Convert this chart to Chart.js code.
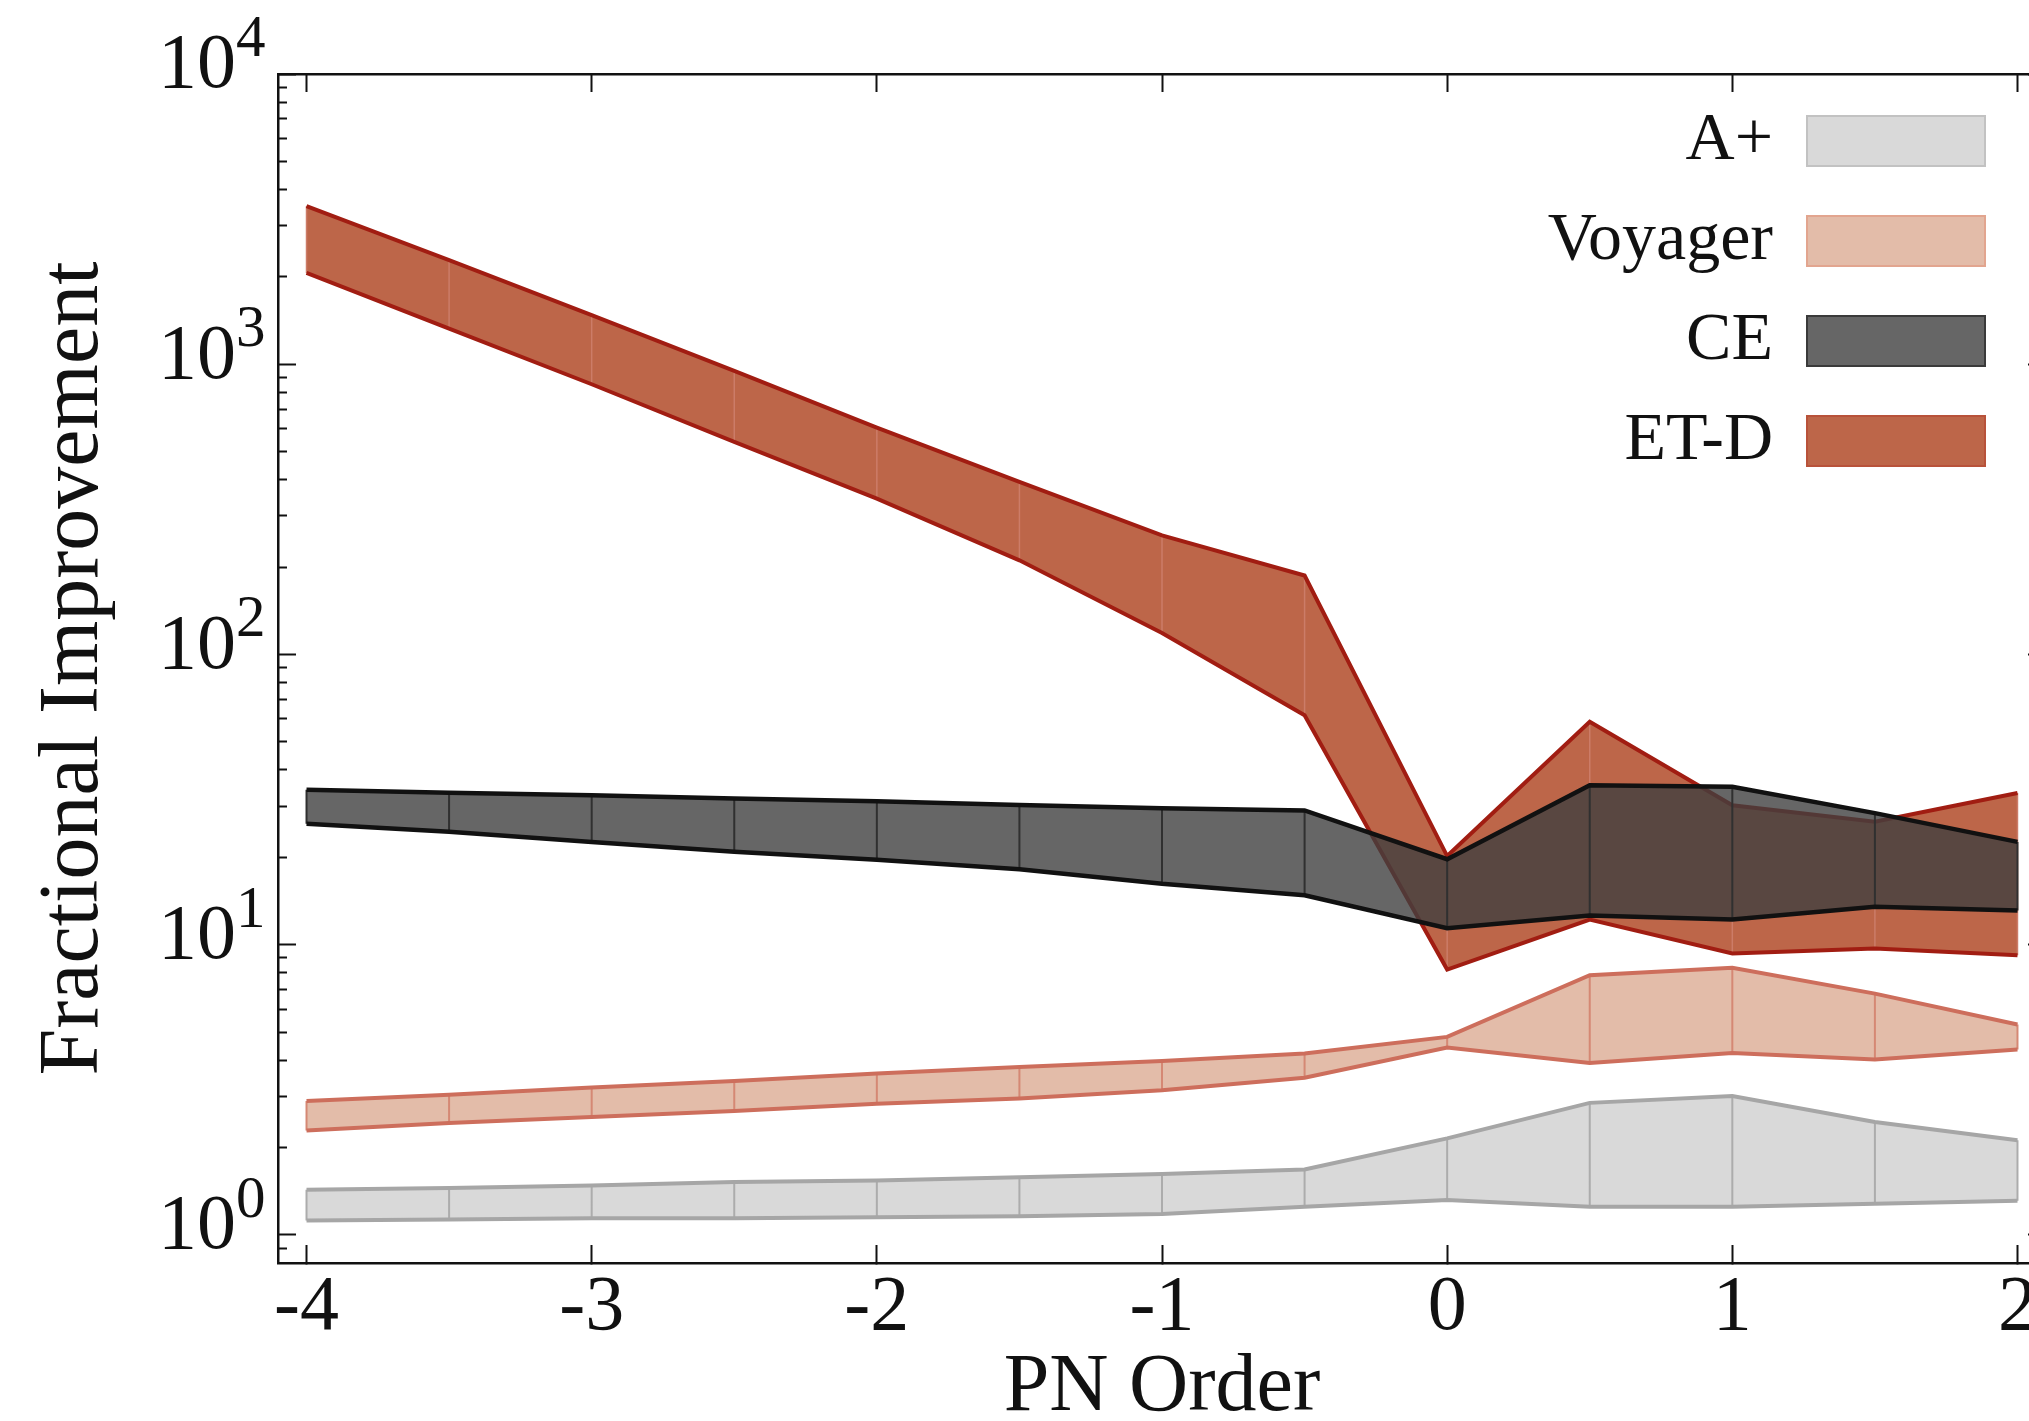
<!DOCTYPE html>
<html>
<head>
<meta charset="utf-8">
<title>Fractional Improvement vs PN Order</title>
<script src="https://cdn.jsdelivr.net/npm/chart.js@4.4.1/dist/chart.umd.min.js"></script>
<style>
  html, body { margin: 0; padding: 0; overflow: hidden; background: #ffffff; }
  #wrap { width: 2070px; height: 1421px; }
  canvas { display: block; }
</style>
</head>
<body>
<div id="wrap"><canvas id="chart" width="2070" height="1421"></canvas></div>
<script>
// ---- data -------------------------------------------------------------
const pnOrders = [-4, -3.5, -3, -2.5, -2, -1.5, -1, -0.5, 0, 0.5, 1, 1.5, 2];

const aPlusUpper   = [1.43, 1.45, 1.48, 1.52, 1.54, 1.58, 1.62, 1.68, 2.15, 2.85, 3.01, 2.45, 2.12];
const aPlusLower   = [1.12, 1.13, 1.14, 1.14, 1.15, 1.16, 1.18, 1.25, 1.32, 1.25, 1.25, 1.28, 1.31];

const voyagerUpper = [2.89, 3.04, 3.22, 3.39, 3.60, 3.79, 3.97, 4.22, 4.81, 7.85, 8.32, 6.78, 5.31];
const voyagerLower = [2.29, 2.43, 2.55, 2.67, 2.83, 2.95, 3.15, 3.48, 4.42, 3.91, 4.23, 4.02, 4.35];

const ceUpper      = [34.2, 33.4, 32.7, 31.9, 31.2, 30.3, 29.5, 29.0, 19.7, 35.4, 35.0, 28.4, 22.6];
const ceLower      = [26.1, 24.5, 22.6, 20.9, 19.6, 18.2, 16.2, 14.8, 11.4, 12.6, 12.2, 13.5, 13.1];

const etdUpper     = [3504, 2283, 1476, 948, 605, 393, 257, 187, 20.2, 58.6, 30.2, 26.5, 33.3];
const etdLower     = [2064, 1327, 853, 540, 344, 211, 118.6, 61.7, 8.21, 12.2, 9.32, 9.70, 9.20];

const detectorNames = ['A+', 'Voyager', 'CE', 'ET-D'];

const xTickValues = [-4, -3, -2, -1, 0, 1, 2];
const xTickLabels = ['-4', '-3', '-2', '-1', '0', '1', '2'];

const yMajorTicks = [1, 10, 100, 1000, 10000];
const yExponents  = ['0', '1', '2', '3', '4'];
const yMinorMultipliers = [2, 3, 4, 5, 6, 7, 8, 9];

const xLimits = [-4.1, 2.1];
const yLimits = [0.8, 10000];

// ---- styles -----------------------------------------------------------
const FONT = '"Liberation Serif", "Times New Roman", serif';
const INK = '#111111';

// layer: higher values are painted first (further back)
const bandStyles = {
  'A+':      { fill: '#d9d9d9', edge: '#a6a6a6', seg: '#acacac', key: '#c2c2c2', edgeWidth: 4,   segWidth: 2,   layer: 30 },
  'Voyager': { fill: '#e3bca9', edge: '#cd6e5c', seg: '#d58874', key: '#e2a58f', edgeWidth: 4,   segWidth: 2,   layer: 20 },
  'ET-D':    { fill: '#bd6649', edge: '#a11d12', seg: '#cc7c68', key: '#b8523a', edgeWidth: 4,   segWidth: 1.5, layer: 10 },
  'CE':      { fill: 'rgba(64,64,64,0.8)', edge: '#111111', seg: '#303030', key: '#3a3a3a', keyFill: '#666666', edgeWidth: 4.5, segWidth: 2, layer: 0 }
};

const bands = [
  { name: 'A+',      upper: aPlusUpper,   lower: aPlusLower },
  { name: 'Voyager', upper: voyagerUpper, lower: voyagerLower },
  { name: 'ET-D',    upper: etdUpper,     lower: etdLower },
  { name: 'CE',      upper: ceUpper,      lower: ceLower }
];

// ---- datasets -----------------------------------------------------------
function toPoints(values) {
  return pnOrders.map((x, i) => ({ x: x, y: values[i] }));
}
// one vertical stroke per PN order, separated by gaps
function toSegments(lower, upper) {
  const pts = [];
  pnOrders.forEach((x, i) => {
    pts.push({ x: x, y: lower[i] }, { x: x, y: upper[i] }, { x: x, y: null });
  });
  return pts;
}

const datasets = [];
bands.forEach(b => {
  const s = bandStyles[b.name];
  const lowerIndex = datasets.length + 3;
  const common = { pointRadius: 0, pointHoverRadius: 0, pointHitRadius: 0, tension: 0,
                   borderCapStyle: 'butt', borderJoinStyle: 'miter' };
  datasets.push(Object.assign({}, common, {
    label: b.name + ' band', data: toPoints(b.upper),
    borderWidth: 0, borderColor: 'rgba(0,0,0,0)', backgroundColor: s.fill,
    fill: lowerIndex, order: s.layer + 3
  }));
  datasets.push(Object.assign({}, common, {
    label: b.name + ' steps', data: toSegments(b.lower, b.upper),
    borderWidth: s.segWidth, borderColor: s.seg, backgroundColor: 'rgba(0,0,0,0)',
    fill: false, spanGaps: false, order: s.layer + 2
  }));
  datasets.push(Object.assign({}, common, {
    label: b.name + ' upper', data: toPoints(b.upper),
    borderWidth: s.edgeWidth, borderColor: s.edge, backgroundColor: 'rgba(0,0,0,0)',
    fill: false, order: s.layer + 1
  }));
  datasets.push(Object.assign({}, common, {
    label: b.name + ' lower', data: toPoints(b.lower),
    borderWidth: s.edgeWidth, borderColor: s.edge, backgroundColor: 'rgba(0,0,0,0)',
    fill: false, order: s.layer + 1
  }));
});

// ---- plugins ------------------------------------------------------------
// legend sits inside the plot, top right, swatch to the right of the name
const legendPlacement = {
  id: 'legendPlacement',
  afterLayout(chart) {
    const lg = chart.legend;
    if (!lg) return;
    const pad = lg.options.labels.padding;
    const right = 1985 + pad;
    lg.left = right - lg.width;
    lg.right = right;
    lg.top = 75;
    lg.bottom = chart.height;
    lg.height = lg.bottom - lg.top;
  }
};

// power-of-ten exponents next to the "10" tick labels
const exponentLabels = {
  id: 'exponentLabels',
  afterDraw(chart) {
    const sc = chart.scales.y;
    const ctx = chart.ctx;
    ctx.save();
    ctx.font = '59px ' + FONT;
    ctx.fillStyle = INK;
    ctx.textAlign = 'left';
    ctx.textBaseline = 'alphabetic';
    yMajorTicks.forEach((v, i) => {
      const py = sc.getPixelForValue(v);
      ctx.fillText(yExponents[i], sc.right - 42, py - 18);
    });
    ctx.restore();
  }
};

function setTicks(values) {
  return scale => { scale.ticks = values.map(v => ({ value: v })); };
}
// fixed box sizes; labels are allowed to overhang the plot edges
function fixSize(prop, size) {
  return scale => {
    scale[prop] = size;
    scale.paddingTop = 0; scale.paddingBottom = 0;
    scale.paddingLeft = 0; scale.paddingRight = 0;
  };
}
const yMinorTicks = [];
yMajorTicks.slice(0, -1).forEach(p => yMinorMultipliers.forEach(m => yMinorTicks.push(m * p)));
yMinorTicks.unshift(0.9);

const axisLine = { display: true, color: INK, width: 2.5 };
function tickGrid(len) {
  return { display: true, drawOnChartArea: false, drawTicks: true, tickLength: len, tickColor: INK, tickWidth: 2 };
}

new Chart(document.getElementById('chart'), {
  type: 'line',
  data: { datasets: datasets },
  plugins: [legendPlacement, exponentLabels],
  options: {
    responsive: false,
    devicePixelRatio: 1,
    animation: false,
    events: [],
    layout: { padding: 0 },
    plugins: {
      colors: { enabled: false },
      tooltip: { enabled: false },
      legend: {
        display: true,
        position: 'chartArea',
        align: 'start',
        rtl: true,
        labels: {
          boxWidth: 178,
          boxHeight: 50,
          padding: 32,
          color: INK,
          font: { family: FONT, size: 68 },
          generateLabels: () => detectorNames.map(name => {
            const s = bandStyles[name];
            return {
              text: name,
              fillStyle: s.keyFill || s.fill,
              strokeStyle: s.key,
              lineWidth: 2,
              hidden: false,
              fontColor: INK,
              datasetIndex: datasets.findIndex(d => d.label === name + ' band')
            };
          })
        }
      }
    },
    scales: {
      x: {
        type: 'linear', position: 'bottom',
        min: xLimits[0], max: xLimits[1],
        afterBuildTicks: setTicks(xTickValues),
        afterFit: fixSize('height', 158),
        border: axisLine,
        grid: tickGrid(-18),
        ticks: {
          autoSkip: false, maxRotation: 0, minRotation: 0, padding: 25, color: INK,
          font: { family: FONT, size: 78, lineHeight: 1 },
          callback: v => xTickLabels[xTickValues.indexOf(v)] ?? ''
        },
        title: {
          display: true, text: 'PN Order', color: INK,
          font: { family: FONT, size: 82, lineHeight: 0.8 },
          padding: { top: 0, bottom: 0 }
        }
      },
      xTop: {
        type: 'linear', position: 'top',
        min: xLimits[0], max: xLimits[1],
        afterBuildTicks: setTicks(xTickValues),
        afterFit: fixSize('height', 74),
        border: axisLine,
        grid: tickGrid(-18),
        ticks: { autoSkip: false, maxRotation: 0, callback: () => '' }
      },
      y: {
        type: 'logarithmic', position: 'left', weight: 1,
        min: yLimits[0], max: yLimits[1],
        afterBuildTicks: setTicks(yMajorTicks),
        afterFit: fixSize('width', 278),
        border: axisLine,
        grid: tickGrid(-18),
        ticks: {
          autoSkip: false, padding: 60, labelOffset: -7, color: INK,
          font: { family: FONT, size: 78 },
          callback: () => '10'
        },
        title: {
          display: true, text: 'Fractional Improvement', color: INK,
          font: { family: FONT, size: 84, lineHeight: 0.8 },
          padding: { top: 41, bottom: 0 }
        }
      },
      yMinor: {
        type: 'logarithmic', position: 'left', weight: 0,
        min: yLimits[0], max: yLimits[1],
        afterBuildTicks: setTicks(yMinorTicks),
        afterFit: fixSize('width', 0),
        border: { display: false },
        grid: tickGrid(-9),
        ticks: { autoSkip: false, callback: () => '' }
      },
      yRight: {
        type: 'logarithmic', position: 'right',
        min: yLimits[0], max: yLimits[1],
        afterBuildTicks: setTicks(yMajorTicks),
        afterFit: fixSize('width', 24),
        border: axisLine,
        grid: tickGrid(-18),
        ticks: { autoSkip: false, callback: () => '' }
      }
    }
  }
});
</script>
</body>
</html>
